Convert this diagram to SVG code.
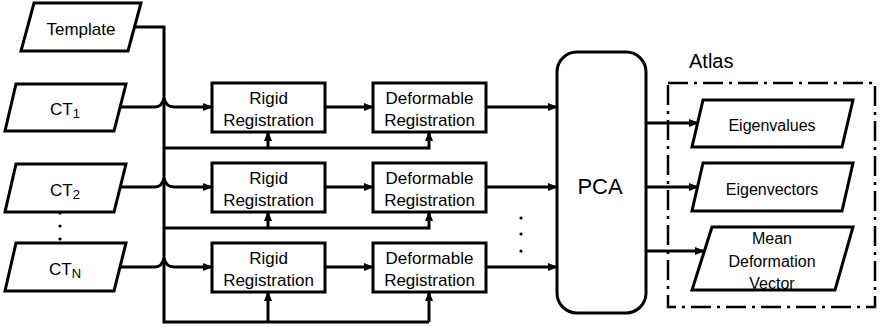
<svg xmlns="http://www.w3.org/2000/svg" width="881" height="328" viewBox="0 0 881 328">
<style>
.shape{fill:#fff;stroke:#000;stroke-width:3;stroke-linejoin:miter}
.ln{fill:none;stroke:#000;stroke-width:3}
.t{font-family:"Liberation Sans",Arial,sans-serif;font-size:17px;fill:#000;text-anchor:middle}
.o{font-size:16px}
.sub{font-size:13px}
</style>
<defs>
<marker id="ah" markerUnits="userSpaceOnUse" markerWidth="10" markerHeight="10" viewBox="0 0 10 10" refX="9" refY="5" orient="auto">
<path d="M0,1 L10,5 L0,9 Z" fill="#000"/>
</marker>
</defs>
<rect width="881" height="328" fill="#fff"/>
<g id="connectors">
<path class="ln" d="M134,27 L164,27 L164,322 L429,322"/>
<path class="ln" d="M120,107 L155,107 Q162,107 164,98 Q166,107 174,107 L212,107" marker-end="url(#ah)"/>
<path class="ln" d="M120,187 L155,187 Q162,187 164,178 Q166,187 174,187 L212,187" marker-end="url(#ah)"/>
<path class="ln" d="M120,267 L155,267 Q162,267 164,258 Q166,267 174,267 L212,267" marker-end="url(#ah)"/>
<path class="ln" d="M164,148 L429,148 L429,132" marker-end="url(#ah)"/>
<path class="ln" d="M268,148 L268,132" marker-end="url(#ah)"/>
<path class="ln" d="M164,228 L429,228 L429,212" marker-end="url(#ah)"/>
<path class="ln" d="M268,228 L268,212" marker-end="url(#ah)"/>
<path class="ln" d="M429,322 L429,292" marker-end="url(#ah)"/>
<path class="ln" d="M268,322 L268,292" marker-end="url(#ah)"/>
<path class="ln" d="M325,107 L373,107" marker-end="url(#ah)"/>
<path class="ln" d="M325,187 L373,187" marker-end="url(#ah)"/>
<path class="ln" d="M325,267 L373,267" marker-end="url(#ah)"/>
<path class="ln" d="M486,107 L557,107" marker-end="url(#ah)"/>
<path class="ln" d="M486,187 L557,187" marker-end="url(#ah)"/>
<path class="ln" d="M486,267 L557,267" marker-end="url(#ah)"/>
<path class="ln" d="M646,123 L698,123" marker-end="url(#ah)"/>
<path class="ln" d="M646,187 L698,187" marker-end="url(#ah)"/>
<path class="ln" d="M646,251 L704,251" marker-end="url(#ah)"/>
</g>
<g id="template">
<polygon class="shape" points="34,3 141,3 128,51 21,51"/>
<text class="t" x="81" y="35">Template</text>
</g>
<g id="ct1">
<polygon class="shape" points="16,84 126,84 114,131 5,131"/>
<text class="t" x="65" y="115">CT<tspan class="sub" dy="3">1</tspan></text>
</g>
<g id="ct2">
<polygon class="shape" points="16,164 126,164 114,212 5,212"/>
<text class="t" x="65" y="196">CT<tspan class="sub" dy="3">2</tspan></text>
</g>
<g id="ctn">
<polygon class="shape" points="16,243 126,243 114,291 5,291"/>
<text class="t" x="65" y="275">CT<tspan class="sub" dy="3">N</tspan></text>
</g>
<g id="dots-ct">
<circle cx="60" cy="213" r="1.6"/>
<circle cx="60" cy="226" r="1.6"/>
<circle cx="60" cy="239" r="1.6"/>
</g>
<g id="rigid1">
<rect class="shape" x="212" y="83" width="113" height="49"/>
<text class="t" x="268.5" y="104">Rigid</text>
<text class="t" x="268.5" y="125.5">Registration</text>
</g>
<g id="rigid2">
<rect class="shape" x="212" y="163" width="113" height="49"/>
<text class="t" x="268.5" y="184">Rigid</text>
<text class="t" x="268.5" y="205.5">Registration</text>
</g>
<g id="rigid3">
<rect class="shape" x="212" y="243" width="113" height="49"/>
<text class="t" x="268.5" y="264">Rigid</text>
<text class="t" x="268.5" y="285.5">Registration</text>
</g>
<g id="deform1">
<rect class="shape" x="373" y="83" width="113" height="49"/>
<text class="t" x="429.5" y="104">Deformable</text>
<text class="t" x="429.5" y="125.5">Registration</text>
</g>
<g id="deform2">
<rect class="shape" x="373" y="163" width="113" height="49"/>
<text class="t" x="429.5" y="184">Deformable</text>
<text class="t" x="429.5" y="205.5">Registration</text>
</g>
<g id="deform3">
<rect class="shape" x="373" y="243" width="113" height="49"/>
<text class="t" x="429.5" y="264">Deformable</text>
<text class="t" x="429.5" y="285.5">Registration</text>
</g>
<g id="dots-reg">
<circle cx="521" cy="218" r="1.6"/>
<circle cx="521" cy="234" r="1.6"/>
<circle cx="521" cy="251" r="1.6"/>
</g>
<g id="pca">
<rect class="shape" x="557" y="52" width="89" height="261" rx="20" ry="20"/>
<text class="t" x="600" y="194" style="font-size:22px">PCA</text>
</g>
<g id="atlas">
<rect x="668" y="83" width="207" height="224" fill="none" stroke="#000" stroke-width="2.5" stroke-dasharray="20,6,3,6"/>
<text class="t" x="689" y="68" style="font-size:20px;text-anchor:start">Atlas</text>
</g>
<g id="eigenvalues">
<polygon class="shape" points="703,100 853,100 842,147 692,147"/>
<text class="t o" x="772" y="131">Eigenvalues</text>
</g>
<g id="eigenvectors">
<polygon class="shape" points="703,163 853,163 842,211 692,211"/>
<text class="t o" x="772" y="195">Eigenvectors</text>
</g>
<g id="mean">
<polygon class="shape" points="712,227 853,227 835,290 692,290"/>
<text class="t o" x="772" y="244">Mean</text>
<text class="t o" x="772" y="267">Deformation</text>
<text class="t o" x="772" y="289">Vector</text>
</g>
</svg>
